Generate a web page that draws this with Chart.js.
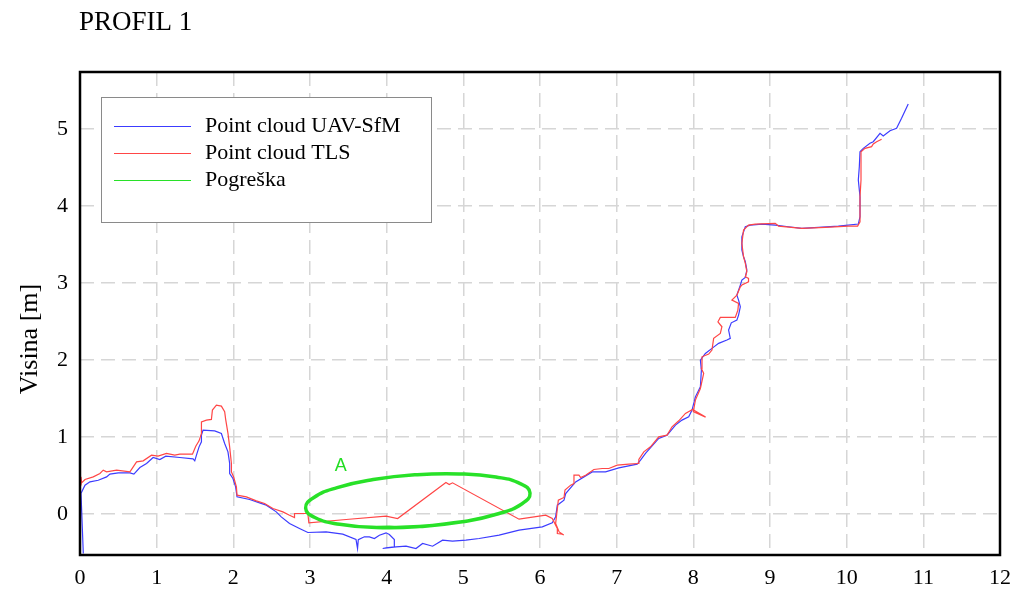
<!DOCTYPE html>
<html>
<head>
<meta charset="utf-8">
<script src="https://cdn.jsdelivr.net/npm/chart.js@4.4.1/dist/chart.umd.min.js"></script>
<style>
    html, body { margin: 0; padding: 0; background: #fff; }
</style>
</head>
<body>
<canvas id="myChart" width="1021" height="591"></canvas>
<script>
// Point cloud UAV-SfM
const uavX = [0.043, 0.013, 0.065, 0.13, 0.238, 0.347, 0.39, 0.499, 0.651, 0.703, 0.781, 0.868, 0.954, 1.041, 1.119, 1.302, 1.475, 1.497, 1.519, 1.553, 1.584, 1.584, 1.605, 1.757, 1.844, 1.887, 1.93, 1.952, 1.952, 1.995, 2.03, 2.048, 2.213, 2.343, 2.43, 2.495, 2.56, 2.625, 2.733, 2.863, 2.972, 3.21, 3.427, 3.6, 3.62, 3.63, 3.709, 3.775, 3.84, 3.905, 3.992, 4.035, 4.1, 4.1, 3.992, 3.948, 4.122, 4.252, 4.382, 4.469, 4.599, 4.729, 4.859, 5.033, 5.206, 5.467, 5.727, 6.03, 6.16, 6.204, 6.226, 6.313, 6.335, 6.465, 6.681, 6.855, 7.028, 7.267, 7.311, 7.376, 7.549, 7.657, 7.767, 7.852, 7.94, 7.983, 8.027, 8.092, 8.105, 8.092, 8.157, 8.243, 8.33, 8.438, 8.482, 8.46, 8.495, 8.568, 8.59, 8.613, 8.59, 8.568, 8.613, 8.633, 8.678, 8.698, 8.678, 8.655, 8.633, 8.633, 8.678, 8.743, 8.894, 9.068, 9.241, 9.415, 9.632, 9.892, 10.152, 10.174, 10.174, 10.152, 10.165, 10.174, 10.217, 10.304, 10.347, 10.435, 10.477, 10.565, 10.651, 10.716, 10.803];
const uavY = [-0.51, 0.27, 0.377, 0.42, 0.44, 0.484, 0.52, 0.536, 0.536, 0.52, 0.606, 0.658, 0.736, 0.71, 0.753, 0.736, 0.718, 0.692, 0.766, 0.874, 0.939, 1.026, 1.091, 1.082, 1.048, 0.918, 0.809, 0.658, 0.528, 0.463, 0.355, 0.225, 0.19, 0.147, 0.117, 0.074, 0.03, -0.035, -0.121, -0.186, -0.238, -0.23, -0.26, -0.329, -0.445, -0.33, -0.294, -0.294, -0.316, -0.273, -0.242, -0.264, -0.329, -0.424, -0.437, -0.446, -0.424, -0.416, -0.446, -0.381, -0.416, -0.338, -0.351, -0.338, -0.316, -0.273, -0.208, -0.165, -0.113, -0.035, 0.117, 0.182, 0.268, 0.419, 0.549, 0.549, 0.601, 0.649, 0.701, 0.788, 0.983, 1.026, 1.156, 1.221, 1.264, 1.351, 1.523, 1.653, 1.87, 2.0, 2.087, 2.152, 2.217, 2.26, 2.282, 2.39, 2.484, 2.519, 2.584, 2.692, 2.779, 2.844, 2.974, 3.039, 3.074, 3.169, 3.277, 3.342, 3.429, 3.601, 3.731, 3.753, 3.766, 3.753, 3.731, 3.71, 3.723, 3.74, 3.766, 3.861, 4.121, 4.338, 4.51, 4.705, 4.749, 4.814, 4.835, 4.944, 4.909, 4.978, 5.009, 5.139, 5.325];

// Point cloud TLS
const tlsX = [0.01, 0.013, 0.022, 0.065, 0.173, 0.26, 0.303, 0.347, 0.477, 0.651, 0.738, 0.824, 0.933, 1.019, 1.128, 1.236, 1.302, 1.467, 1.51, 1.553, 1.584, 1.584, 1.649, 1.714, 1.727, 1.779, 1.844, 1.887, 1.9, 1.93, 1.952, 1.975, 1.975, 2.004, 2.04, 2.048, 2.17, 2.3, 2.408, 2.516, 2.646, 2.733, 2.798, 2.798, 2.972, 2.985, 3.471, 3.992, 4.143, 4.773, 4.816, 4.859, 5.727, 6.075, 6.16, 6.226, 6.226, 6.29, 6.31, 6.25, 6.204, 6.239, 6.313, 6.326, 6.4, 6.443, 6.443, 6.508, 6.53, 6.595, 6.703, 6.811, 6.898, 7.007, 7.159, 7.28, 7.289, 7.354, 7.441, 7.549, 7.657, 7.722, 7.81, 7.897, 7.99, 8.16, 8.0, 8.027, 8.092, 8.135, 8.105, 8.113, 8.2, 8.243, 8.265, 8.352, 8.373, 8.321, 8.352, 8.547, 8.581, 8.59, 8.503, 8.568, 8.613, 8.633, 8.72, 8.72, 8.678, 8.698, 8.678, 8.655, 8.633, 8.655, 8.72, 8.807, 9.068, 9.111, 9.415, 9.719, 10.022, 10.143, 10.174, 10.174, 10.187, 10.187, 10.239, 10.325, 10.347, 10.391, 10.456];
const tlsY = [0.38, 0.484, 0.407, 0.45, 0.484, 0.528, 0.571, 0.549, 0.571, 0.549, 0.679, 0.692, 0.766, 0.753, 0.788, 0.766, 0.779, 0.779, 0.883, 0.952, 1.048, 1.199, 1.221, 1.23, 1.351, 1.416, 1.403, 1.329, 1.23, 1.048, 0.874, 0.658, 0.549, 0.484, 0.355, 0.247, 0.225, 0.173, 0.139, 0.074, 0.03, -0.013, -0.043, 0.009, 0.009, -0.113, -0.069, -0.026, -0.056, 0.411, 0.385, 0.407, -0.065, -0.013, -0.056, -0.186, -0.251, -0.26, -0.27, -0.23, -0.121, 0.182, 0.217, 0.312, 0.377, 0.398, 0.506, 0.506, 0.476, 0.506, 0.58, 0.593, 0.593, 0.636, 0.649, 0.658, 0.71, 0.809, 0.874, 1.004, 1.026, 1.134, 1.212, 1.308, 1.36, 1.26, 1.33, 1.481, 1.632, 1.827, 1.892, 2.043, 2.078, 2.13, 2.282, 2.347, 2.433, 2.497, 2.554, 2.554, 2.649, 2.736, 2.779, 2.844, 2.952, 2.974, 3.017, 3.061, 3.082, 3.147, 3.256, 3.342, 3.516, 3.688, 3.753, 3.766, 3.775, 3.74, 3.71, 3.723, 3.74, 3.74, 3.796, 4.121, 4.338, 4.705, 4.749, 4.771, 4.805, 4.835, 4.866];

// Pogreška (ellipse "A"); loop starts and ends on the flat bottom
const errX = [4.986, 4.428, 3.867, 3.387, 3.063, 2.943, 3.046, 3.355, 3.825, 4.384, 4.945, 5.425, 5.749, 5.870, 5.766, 5.456, 4.986, 4.428, 3.867];
const errY = [-0.099, -0.161, -0.173, -0.131, -0.043, 0.078, 0.214, 0.345, 0.449, 0.512, 0.523, 0.482, 0.394, 0.273, 0.136, 0.005, -0.099, -0.161, -0.173];

const xRange = [0, 12];
const yRange = [-0.53, 5.74];
const labelA = {text: 'A', x: 3.40, y: 0.62};

function pts(xs, ys) {
    return xs.map((x, i) => ({x: x, y: ys[i]}));
}

const serif = 'Liberation Serif, Times New Roman, serif';

const extras = {
    id: 'extras',
    afterDraw(chart) {
        const ctx = chart.ctx;
        const a = chart.chartArea;
        ctx.save();
        // frame
        ctx.lineWidth = 2.5;
        ctx.strokeStyle = '#000';
        ctx.strokeRect(a.left, a.top, a.right - a.left, a.bottom - a.top);

        // title
        ctx.fillStyle = '#000';
        ctx.font = '27px ' + serif;
        ctx.textAlign = 'left';
        ctx.textBaseline = 'middle';
        ctx.fillText('PROFIL 1', 79, 23);

        // y axis title
        ctx.save();
        ctx.translate(30, 339);
        ctx.rotate(-Math.PI / 2);
        ctx.textAlign = 'center';
        ctx.font = '26px ' + serif;
        ctx.fillText('Visina [m]', 0, 0);
        ctx.restore();

        // label A
        const sx = chart.scales.x, sy = chart.scales.y;
        ctx.fillStyle = '#22dd22';
        ctx.font = '18px Liberation Sans, Arial, sans-serif';
        ctx.textAlign = 'center';
        ctx.fillText(labelA.text, sx.getPixelForValue(labelA.x), sy.getPixelForValue(labelA.y));

        // legend
        ctx.fillStyle = '#fff';
        ctx.fillRect(101, 97, 330, 125);
        ctx.lineWidth = 1;
        ctx.strokeStyle = '#8a8a8a';
        ctx.strokeRect(101.5, 97.5, 330, 125);
        ctx.font = '22px ' + serif;
        ctx.textAlign = 'left';
        chart.data.datasets.forEach((ds, i) => {
            const y = 126 + i * 27;
            ctx.strokeStyle = ds.borderColor;
            ctx.lineWidth = 1;
            ctx.beginPath();
            ctx.moveTo(114, y + 0.5);
            ctx.lineTo(191, y + 0.5);
            ctx.stroke();
            ctx.fillStyle = '#000';
            ctx.fillText(ds.label, 205, y);
        });
        ctx.restore();
    }
};

const ctx = document.getElementById('myChart');
const myChart = new Chart(ctx, {
    type: 'scatter',
    data: {
        datasets: [
            {
                label: 'Point cloud UAV-SfM',
                data: pts(uavX, uavY),
                showLine: true,
                borderColor: 'rgb(60, 60, 255)',
                borderWidth: 1.2,
                pointRadius: 0,
                order: 2
            },
            {
                label: 'Point cloud TLS',
                data: pts(tlsX, tlsY),
                showLine: true,
                borderColor: 'rgb(255, 70, 70)',
                borderWidth: 1.2,
                pointRadius: 0,
                order: 1
            },
            {
                label: 'Pogreška',
                data: pts(errX, errY),
                showLine: true,
                tension: 0.5,
                borderColor: 'rgb(40, 225, 40)',
                borderWidth: 3.5,
                pointRadius: 0,
                order: 0
            }
        ]
    },
    options: {
        responsive: false,
        animation: false,
        layout: { padding: { top: 72, right: 19, left: 0, bottom: 0 } },
        plugins: {
            legend: { display: false },
            tooltip: { enabled: false }
        },
        scales: {
            x: {
                type: 'linear',
                min: xRange[0],
                max: xRange[1],
                afterFit: (s) => { s.height = 36; },
                ticks: { stepSize: 1, color: '#000', padding: 10, font: { family: serif, size: 22 } },
                grid: { color: '#d6d6d6', lineWidth: 1.5, drawTicks: false },
                border: { display: false, dash: [14, 7] }
            },
            y: {
                min: yRange[0],
                max: yRange[1],
                afterFit: (s) => { s.width = 80; },
                ticks: { stepSize: 1, includeBounds: false, color: '#000', padding: 12, font: { family: serif, size: 22 } },
                grid: { color: '#d6d6d6', lineWidth: 1.5, drawTicks: false },
                border: { display: false, dash: [14, 7] }
            }
        }
    },
    plugins: [extras]
});
</script>
</body>
</html>
